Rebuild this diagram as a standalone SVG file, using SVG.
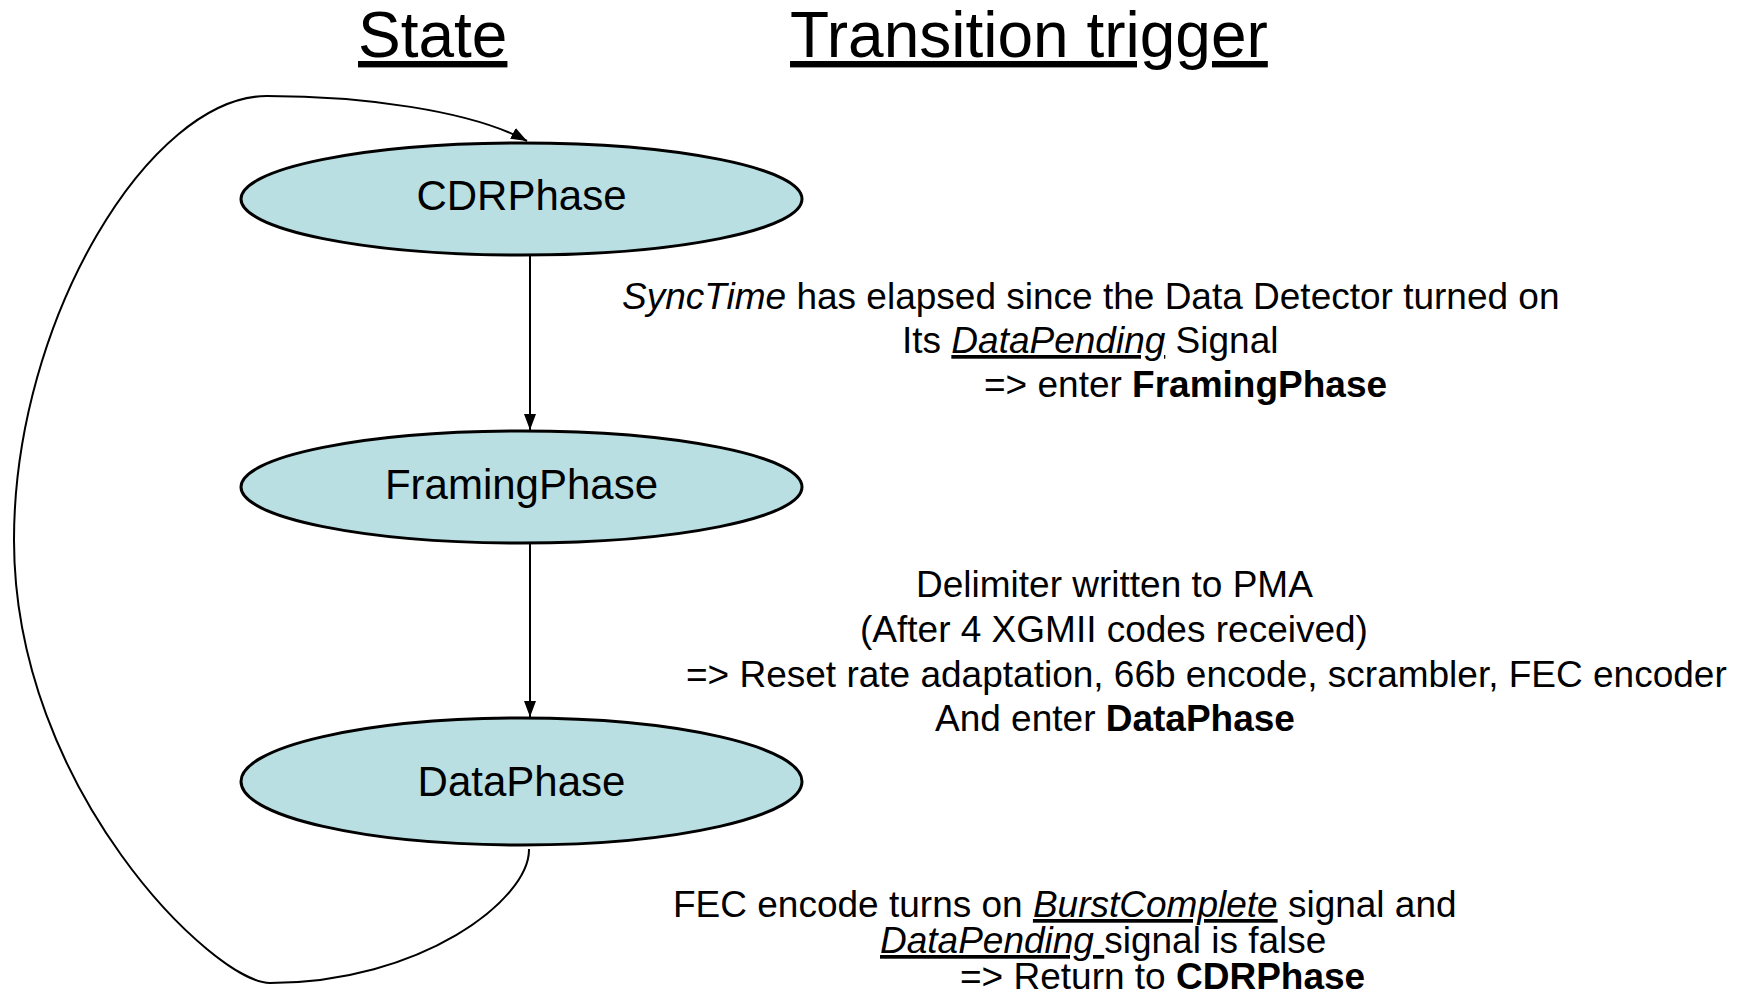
<svg xmlns="http://www.w3.org/2000/svg" width="1756" height="998" viewBox="0 0 1756 998">
<defs>
<style>
.t{font-family:"Liberation Sans",Arial,sans-serif;fill:#000}
.title{font-size:64px;text-decoration:underline}
.node{font-size:42px;text-anchor:middle}
.body{font-size:37px}
.st{fill:#B9DFE3;stroke:#000;stroke-width:3}
.c{fill:none;stroke:#000;stroke-width:2}
.i{font-style:italic}
.u{text-decoration:underline}
.b{font-weight:bold}
</style>
<marker id="ah" viewBox="0 0 16 12" refX="16" refY="6" markerWidth="16" markerHeight="12" markerUnits="userSpaceOnUse" orient="auto">
<path d="M0,0 L16,6 L0,12 z" fill="#000"/>
</marker>
</defs>
<rect width="1756" height="998" fill="#fff"/>
<g id="titles">
<text class="t title" x="358" y="57">State</text>
<text class="t title" x="790" y="57">Transition trigger</text>
</g>
<g id="connectors">
<line class="c" x1="530" y1="256" x2="530" y2="430" marker-end="url(#ah)"/>
<line class="c" x1="530" y1="544" x2="530" y2="717" marker-end="url(#ah)"/>
<path class="c" d="M529,849 C530,900 420,983 270,983 C215,983 14,790 14,540 C14,320 150,96 267,96 C360,96 470,110 527,141" marker-end="url(#ah)"/>
</g>
<g id="CDRPhase">
<ellipse class="st" cx="521.5" cy="199" rx="280.5" ry="56"/>
<text class="t node" x="521.5" y="210">CDRPhase</text>
</g>
<g id="FramingPhase">
<ellipse class="st" cx="521.5" cy="487" rx="280.5" ry="56"/>
<text class="t node" x="521.5" y="499">FramingPhase</text>
</g>
<g id="DataPhase">
<ellipse class="st" cx="521.5" cy="781.5" rx="280.5" ry="63.5"/>
<text class="t node" x="521.5" y="796">DataPhase</text>
</g>
<g id="trigger1">
<text class="t body" x="622" y="309"><tspan class="i">SyncTime</tspan> has elapsed since the Data Detector turned on</text>
<text class="t body" x="902" y="353">Its <tspan class="i u">DataPending</tspan> Signal</text>
<text class="t body" x="984" y="397">=&gt; enter <tspan class="b">FramingPhase</tspan></text>
</g>
<g id="trigger2">
<text class="t body" x="916" y="597">Delimiter written to PMA</text>
<text class="t body" x="860" y="642">(After 4 XGMII codes received)</text>
<text class="t body" x="686" y="687">=&gt; Reset rate adaptation, 66b encode, scrambler, FEC encoder</text>
<text class="t body" x="935" y="731">And enter <tspan class="b">DataPhase</tspan></text>
</g>
<g id="trigger3">
<text class="t body" x="673" y="917">FEC encode turns on <tspan class="i u">BurstComplete</tspan> signal and</text>
<text class="t body" x="880" y="953"><tspan class="i u">DataPending </tspan>signal is false</text>
<text class="t body" x="960" y="989">=&gt; Return to <tspan class="b">CDRPhase</tspan></text>
</g>
</svg>
